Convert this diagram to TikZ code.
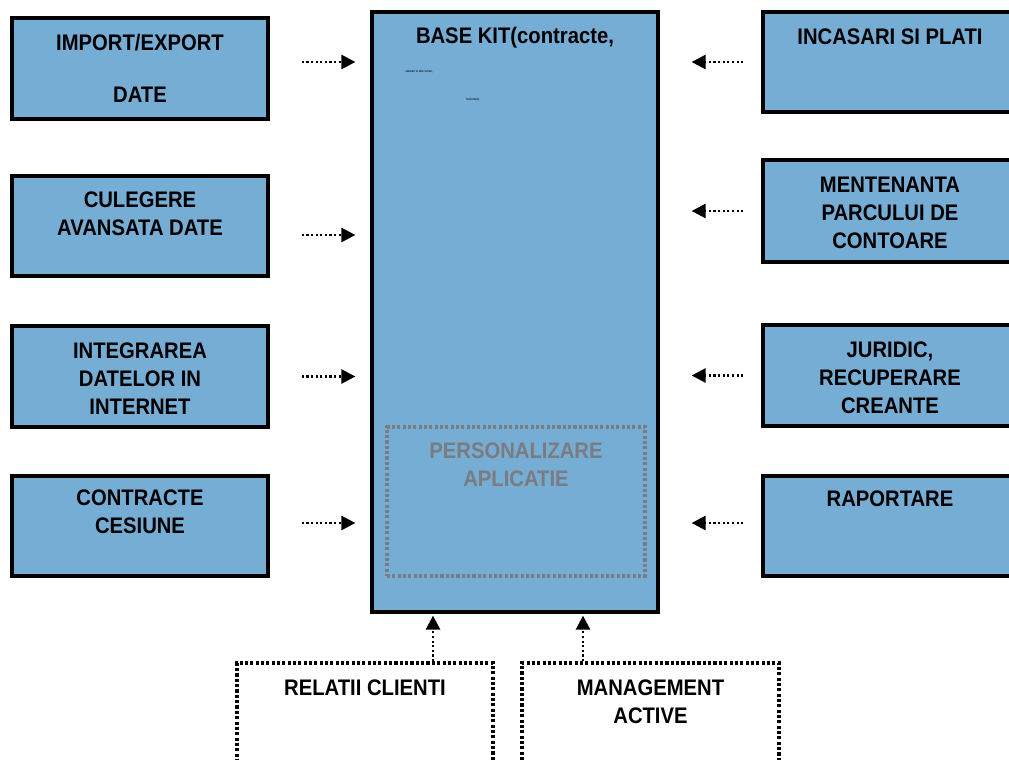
\documentclass[tikz,border=0pt]{standalone}
\usepackage{fontspec}
\setmainfont{Liberation Sans}[FakeStretch=0.9]
\usetikzlibrary{arrows.meta}

\definecolor{blockColor}{RGB}{117,173,213}
\definecolor{persColor}{RGB}{122,124,128}

\tikzset{
  block/.style={draw, line width=2.3pt, fill=blockColor, minimum width=6.4cm, minimum height=2.5cm, inner sep=0pt},
  blockText/.style={anchor=north, align=center, inner sep=0pt, font=\fontsize{16}{19.9}\selectfont\bfseries},
  tinyText/.style={anchor=west, inner sep=0pt, font=\fontsize{2.4}{3}\selectfont},
  dotBlock/.style={draw, line width=2.4pt, dash pattern=on 2.2pt off 1.6pt, minimum width=6.4cm, minimum height=3.5cm, inner sep=0pt},
  flow/.style={line width=1.8pt, dash pattern=on 1.6pt off 1.7pt, -{Triangle[length=0.35cm,width=0.35cm]}}
}

\begin{document}
\begin{tikzpicture}
  \clip (0,0) rectangle (25.225,-19);
  % Base kit
  \node[block, minimum width=7.15cm, minimum height=15cm] (kit) at (12.875,-7.8) {};
  \node[blockText] (kitT) at ([yshift=-0.425cm]kit.north) {BASE KIT(contracte,};
  \node[tinyText] (kitNoteA) at (10.125,-1.775) {vanzari si alte surse,};
  \node[tinyText] (kitNoteB) at (11.65,-2.5) {facturare)};
  \node[dotBlock, draw=persColor, minimum width=6.45cm, minimum height=3.725cm] (pers) at (12.9,-12.5375) {};
  \node[blockText, text=persColor] (persT) at ([yshift=-0.425cm]pers.north) {PERSONALIZARE\\APLICATIE};
  % Left blocks
  \node[block, minimum height=2.525cm] (imp) at (3.5,-1.7125) {};
  \node[blockText] (impT) at ([yshift=-0.45cm]imp.north) {IMPORT/EXPORT\\[0.6cm]DATE};
  \node[block] (cul) at (3.5,-5.65) {};
  \node[blockText] (culT) at ([yshift=-0.425cm]cul.north) {CULEGERE\\AVANSATA DATE};
  \node[block, minimum height=2.525cm] (integ) at (3.5,-9.4125) {};
  \node[blockText] (integT) at ([yshift=-0.45cm]integ.north) {INTEGRAREA\\DATELOR IN\\INTERNET};
  \node[block] (contr) at (3.5,-13.15) {};
  \node[blockText] (contrT) at ([yshift=-0.375cm]contr.north) {CONTRACTE\\CESIUNE};
  % Right blocks
  \node[block, minimum width=6.35cm] (inc) at (22.25,-1.55) {};
  \node[blockText] (incT) at ([yshift=-0.45cm]inc.north) {INCASARI SI PLATI};
  \node[block, minimum width=6.35cm, minimum height=2.55cm] (ment) at (22.25,-5.275) {};
  \node[blockText] (mentT) at ([yshift=-0.45cm]ment.north) {MENTENANTA\\PARCULUI DE\\CONTOARE};
  \node[block, minimum width=6.35cm, minimum height=2.525cm] (jur) at (22.25,-9.3875) {};
  \node[blockText] (jurT) at ([yshift=-0.45cm]jur.north) {JURIDIC,\\RECUPERARE\\CREANTE};
  \node[block, minimum width=6.35cm] (rap) at (22.25,-13.15) {};
  \node[blockText] (rapT) at ([yshift=-0.4cm]rap.north) {RAPORTARE};
  % Bottom blocks
  \node[dotBlock] (rel) at (9.125,-18.325) {};
  \node[blockText] (relT) at ([yshift=-0.45cm]rel.north) {RELATII CLIENTI};
  \node[dotBlock, minimum width=6.425cm] (mgmt) at (16.2625,-18.325) {};
  \node[blockText] (mgmtT) at ([yshift=-0.45cm]mgmt.north) {MANAGEMENT\\ACTIVE};
  % Inputs
  \draw[flow, shorten <=0.8cm, shorten >=0.375cm] ([yshift=0.1625cm]imp.east) -- ([yshift=0.1625cm]imp.east -| kit.west);
  \draw[flow, shorten <=0.8cm, shorten >=0.375cm] ([yshift=-0.225cm]cul.east) -- ([yshift=-0.225cm]cul.east -| kit.west);
  \draw[flow, shorten <=0.8cm, shorten >=0.375cm] (integ.east) -- (integ.east -| kit.west);
  \draw[flow, shorten <=0.8cm, shorten >=0.375cm] ([yshift=0.075cm]contr.east) -- ([yshift=0.075cm]contr.east -| kit.west);
  \draw[flow, shorten <=0.45cm, shorten >=0.8cm] (inc.west) -- (inc.west -| kit.east);
  \draw[flow, shorten <=0.45cm, shorten >=0.8cm] (ment.west) -- (ment.west -| kit.east);
  \draw[flow, shorten <=0.45cm, shorten >=0.8cm] (jur.west) -- (jur.west -| kit.east);
  \draw[flow, shorten <=0.45cm, shorten >=0.8cm] ([yshift=0.075cm]rap.west) -- ([yshift=0.075cm]rap.west -| kit.east);
  \draw[flow, shorten >=0.05cm] ([xshift=-2.05cm]kit.south |- rel.north) -- ([xshift=-2.05cm]kit.south);
  \draw[flow, shorten >=0.05cm] ([xshift=1.7cm]kit.south |- mgmt.north) -- ([xshift=1.7cm]kit.south);
\end{tikzpicture}
\end{document}
